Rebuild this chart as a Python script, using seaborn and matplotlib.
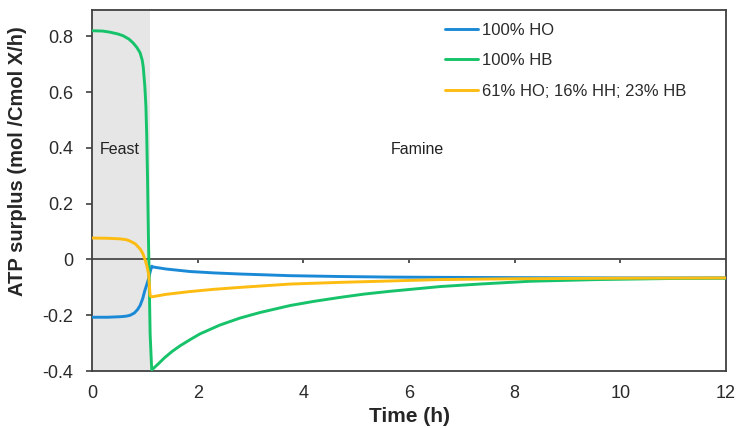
import pandas as pd
import matplotlib
matplotlib.use("Agg")
import matplotlib.pyplot as plt
import seaborn as sns

# --- data ---
labels = ["100% HO", "100% HB", "61% HO; 16% HH; 23% HB"]
colors = ["#1b8ad6", "#17c36a", "#fdbc12"]

t_ho = [0, 0.3, 0.55, 0.65, 0.72, 0.8, 0.86, 0.91, 0.96, 1.0, 1.04, 1.07, 1.1, 1.13,
        1.16, 1.4, 1.85, 2.3, 2.8, 3.75, 4.69, 5.64, 6.59, 8.0, 10.0, 12.0]
y_ho = [-0.207, -0.207, -0.205, -0.203, -0.200, -0.192, -0.180, -0.165, -0.140, -0.111,
        -0.088, -0.069, -0.045, -0.024, -0.027, -0.034, -0.043, -0.048, -0.052, -0.058,
        -0.061, -0.063, -0.064, -0.065, -0.066, -0.066]

t_hb = [0, 0.2, 0.34, 0.5, 0.59, 0.7, 0.78, 0.85, 0.91, 0.95, 0.97, 1.0, 1.02, 1.035,
        1.05, 1.067, 1.085, 1.1, 1.13, 1.25, 1.38, 1.52, 1.67, 1.85, 2.04, 2.42, 2.8,
        3.18, 3.75, 4.2, 4.69, 5.15, 5.64, 6.59, 7.34, 8.29, 9.55, 11.0, 12.0]
y_hb = [0.82, 0.819, 0.815, 0.808, 0.802, 0.79, 0.776, 0.76, 0.741, 0.715, 0.69, 0.62,
        0.55, 0.45, 0.30, 0.09, -0.10, -0.267, -0.396, -0.375, -0.351, -0.329, -0.309,
        -0.288, -0.267, -0.235, -0.210, -0.190, -0.165, -0.150, -0.136, -0.124, -0.114,
        -0.097, -0.088, -0.078, -0.072, -0.068, -0.067]

t_mix = [0, 0.3, 0.53, 0.65, 0.72, 0.82, 0.91, 0.96, 1.0, 1.04, 1.07, 1.1, 1.13, 1.4,
         1.85, 2.3, 2.8, 3.75, 4.69, 5.64, 6.59, 8.0, 10.0, 12.0]
y_mix = [0.077, 0.076, 0.074, 0.071, 0.066, 0.056, 0.038, 0.022, 0.002, -0.024, -0.051,
         -0.13, -0.134, -0.125, -0.115, -0.107, -0.100, -0.088, -0.082, -0.077, -0.072,
         -0.069, -0.067, -0.066]

feast_end = 1.1
xticks = [0, 2, 4, 6, 8, 10, 12]
yticks = [-0.4, -0.2, 0, 0.2, 0.4, 0.6, 0.8]

df = pd.concat([
    pd.DataFrame({"Time": t_ho, "ATP": y_ho, "Case": labels[0]}),
    pd.DataFrame({"Time": t_hb, "ATP": y_hb, "Case": labels[1]}),
    pd.DataFrame({"Time": t_mix, "ATP": y_mix, "Case": labels[2]}),
])

sns.set_style("white")
plt.rcParams['font.family'] = ['Liberation Sans', 'DejaVu Sans']

fig = plt.figure(figsize=(7.39, 4.28), dpi=100)
ax = fig.add_axes([0.1245, 0.133, 0.858, 0.844])

# feast phase shading and the zero line with its small ticks
ax.axvspan(0, feast_end, color="#e6e6e6", lw=0, zorder=0)
ax.axhline(0, color="#555555", lw=1.4, zorder=1)
ax.vlines(xticks[1:-1], -0.014, 0, color="#555555", lw=1.4, zorder=1)

sns.lineplot(data=df, x="Time", y="ATP", hue="Case", hue_order=labels,
             palette=colors, estimator=None, lw=2.1, ax=ax, zorder=3)

ax.set_xlim(0, 12)
ax.set_ylim(-0.4, 0.895)
ax.set_xticks(xticks)
ax.set_xticklabels([str(v) for v in xticks])
ax.set_yticks(yticks)
ax.set_yticklabels(["-0.4", "-0.2", "0", "0.2", "0.4", "0.6", "0.8"])
ax.tick_params(axis="x", length=0, pad=10, labelsize=13, colors="#2a2a2a")
ax.tick_params(axis="y", left=True, length=4.5, width=1.2, direction="out", pad=9,
               labelsize=13, color="#404040", labelcolor="#2a2a2a")
for s in ax.spines.values():
    s.set_color("#404040")
    s.set_linewidth(1.3)

ax.set_xlabel("Time (h)", fontsize=15, fontweight="bold")
ax.set_ylabel("ATP surplus (mol /Cmol X/h)", fontsize=14.5, fontweight="bold")
ax.xaxis.set_label_coords(0.5, -0.1)
ax.yaxis.set_label_coords(-0.1025, 0.582)

ax.text(0.15, 0.394, "Feast", fontsize=11.5, va="center", ha="left", color="#222222")
ax.text(6.16, 0.394, "Famine", fontsize=11.5, va="center", ha="center", color="#222222")

ax.legend(loc="upper left", bbox_to_anchor=(0.533, 1.006), frameon=False,
          fontsize=12, handlelength=2.0, handletextpad=0.2, labelspacing=0.93,
          labelcolor="#2a2a2a")

fig.savefig("out.png", dpi=100)
